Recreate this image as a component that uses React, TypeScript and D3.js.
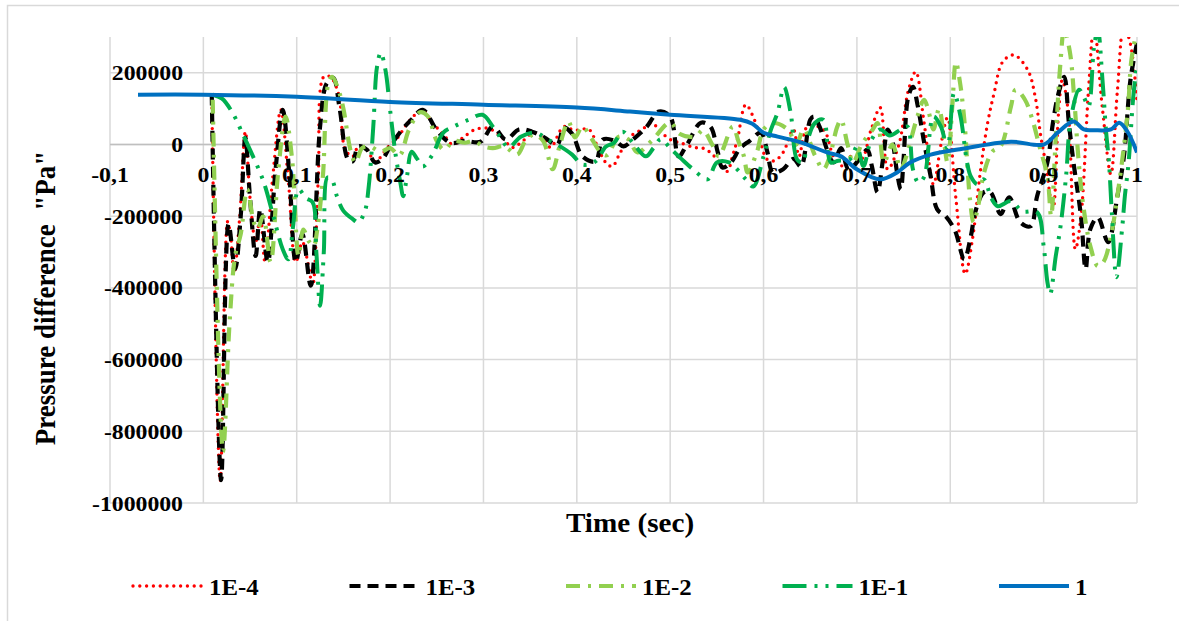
import React from "react";
import * as d3 from "d3";

type Pt = [number, number];

// Time axis ticks (sec) and pressure ticks (Pa)
const xTicks = [-0.1, 0, 0.1, 0.2, 0.3, 0.4, 0.5, 0.6, 0.7, 0.8, 0.9, 1];
const yTicks = [-1000000, -800000, -600000, -400000, -200000, 0, 200000];

const seriesNames = ["1E-4", "1E-3", "1E-2", "1E-1", "1"];

// Pressure difference [time (s), Pa] per series
const s1E4: Pt[] = [
  [0.009, 139000], [0.018, -939000], [0.026, -215000], [0.029, -250000], [0.033, -356000],
  [0.039, -200000], [0.045, 36000], [0.05, -150000], [0.056, -272000], [0.061, -200000],
  [0.066, -328000], [0.074, -100000], [0.083, 97000], [0.091, -100000], [0.099, -328000],
  [0.106, -272000], [0.112, -330000], [0.117, -394000], [0.123, -100000], [0.129, 189000],
  [0.136, 189000], [0.145, 139000], [0.152, -14000], [0.16, -33000], [0.166, -6000],
  [0.175, -14000], [0.184, -47000], [0.198, -6000], [0.208, 19000], [0.22, 64000],
  [0.235, 97000], [0.245, 60000], [0.256, 33000], [0.267, 0], [0.278, 19000],
  [0.291, 42000], [0.305, 45000], [0.318, 25000], [0.331, -8000], [0.34, 5000],
  [0.354, 33000], [0.365, 15000], [0.372, -8000], [0.386, 50000], [0.397, 40000],
  [0.413, 42000], [0.422, -5000], [0.431, -50000], [0.438, -61000], [0.447, -20000],
  [0.46, 28000], [0.47, 42000], [0.48, 60000], [0.492, 30000], [0.503, 10000],
  [0.511, 5000], [0.525, -8000], [0.535, -10000], [0.543, -22000], [0.552, -47000],
  [0.561, -75000], [0.567, -30000], [0.572, 14000], [0.581, 111000], [0.591, 64000],
  [0.604, -42000], [0.612, -45000], [0.621, -22000], [0.632, 42000], [0.638, -33000],
  [0.647, 50000], [0.664, 42000], [0.675, -33000], [0.685, -60000], [0.695, -30000],
  [0.705, -40000], [0.715, 40000], [0.725, 103000], [0.733, -69000], [0.745, 0],
  [0.755, 150000], [0.763, 203000], [0.772, 60000], [0.782, -111000], [0.79, 0],
  [0.797, 75000], [0.806, -150000], [0.816, -361000], [0.824, -260000], [0.832, -80000],
  [0.84, 60000], [0.847, 144000], [0.856, 230000], [0.868, 250000], [0.883, 208000],
  [0.891, 133000], [0.897, 22000], [0.902, -50000], [0.91, -180000], [0.916, 90000],
  [0.92, 180000], [0.926, 100000], [0.934, -292000], [0.94, -200000], [0.948, 150000],
  [0.954, 330000], [0.963, 100000], [0.972, -83000], [0.979, 150000], [0.986, 330000],
  [0.993, 280000], [1.0, 120000],
];

const s1E3: Pt[] = [
  [0.009, 139000], [0.019, -936000], [0.027, -222000], [0.034, -347000], [0.04, -200000],
  [0.045, 19000], [0.05, -150000], [0.056, -311000], [0.061, -180000], [0.069, -328000],
  [0.077, -80000], [0.085, 97000], [0.092, -80000], [0.099, -328000], [0.106, -250000],
  [0.115, -394000], [0.125, 50000], [0.132, 170000], [0.139, 186000], [0.146, 100000],
  [0.155, -42000], [0.16, -47000], [0.166, -5000], [0.175, -14000], [0.184, -50000],
  [0.192, -40000], [0.2, -5000], [0.213, 42000], [0.223, 70000], [0.235, 97000],
  [0.25, 40000], [0.265, 5000], [0.28, 10000], [0.297, 8000], [0.31, 50000],
  [0.324, 14000], [0.338, 42000], [0.352, 36000], [0.365, 20000], [0.379, 0],
  [0.386, 47000], [0.395, 30000], [0.406, -33000], [0.42, -47000], [0.428, 14000],
  [0.441, 10000], [0.45, -5000], [0.46, 14000], [0.474, 47000], [0.488, 92000],
  [0.5, 78000], [0.509, -33000], [0.518, 0], [0.533, 61000], [0.543, 50000],
  [0.551, -22000], [0.556, -64000], [0.565, -50000], [0.575, -10000], [0.585, 10000],
  [0.597, 33000], [0.604, -20000], [0.61, -78000], [0.621, -69000], [0.632, -40000],
  [0.64, -61000], [0.65, 69000], [0.654, 78000], [0.66, 50000], [0.668, -14000],
  [0.675, -50000], [0.683, -10000], [0.691, -69000], [0.703, -40000], [0.711, -14000],
  [0.716, -60000], [0.722, -133000], [0.728, -40000], [0.733, 42000], [0.738, 10000],
  [0.743, -78000], [0.747, -125000], [0.75, -40000], [0.755, 133000], [0.76, 161000],
  [0.765, 110000], [0.772, 6000], [0.779, -89000], [0.786, -181000], [0.795, -200000],
  [0.805, -240000], [0.815, -320000], [0.822, -256000], [0.827, -186000], [0.836, -133000],
  [0.843, -133000], [0.854, -194000], [0.863, -147000], [0.875, -217000], [0.886, -228000],
  [0.893, -144000], [0.904, -50000], [0.91, 61000], [0.915, 133000], [0.922, 189000],
  [0.927, 61000], [0.932, -50000], [0.94, -200000], [0.945, -347000], [0.95, -236000],
  [0.958, -203000], [0.969, -272000], [0.979, -144000], [0.986, -33000], [0.993, 181000],
  [1.0, 283000],
];

const s1E2: Pt[] = [
  [0.01, 125000], [0.021, -856000], [0.028, -500000], [0.034, -311000], [0.04, -250000],
  [0.047, -125000], [0.054, -217000], [0.058, -236000], [0.064, -200000], [0.072, -328000],
  [0.08, -80000], [0.088, 78000], [0.095, -40000], [0.102, -311000], [0.107, -237000],
  [0.113, -270000], [0.118, -283000], [0.122, -237000], [0.128, -89000], [0.134, 172000],
  [0.138, 189000], [0.145, 150000], [0.15, 100000], [0.158, -20000], [0.163, -50000],
  [0.17, -10000], [0.178, -5000], [0.19, -20000], [0.2, -10000], [0.21, -30000],
  [0.22, 40000], [0.232, 90000], [0.24, 80000], [0.25, 10000], [0.258, -15000],
  [0.268, 10000], [0.28, 5000], [0.29, 10000], [0.3, -5000], [0.31, -10000],
  [0.322, -5000], [0.336, -28000], [0.345, 10000], [0.354, 28000], [0.364, 10000],
  [0.374, -69000], [0.382, 0], [0.391, 64000], [0.398, 20000], [0.406, 50000],
  [0.415, 20000], [0.425, -20000], [0.432, -30000], [0.445, 22000], [0.455, 15000],
  [0.465, -22000], [0.48, 10000], [0.5, 61000], [0.51, 30000], [0.527, 22000],
  [0.535, 40000], [0.545, 0], [0.552, -33000], [0.567, 50000], [0.573, 10000],
  [0.579, -33000], [0.583, -78000], [0.593, -20000], [0.6, 42000], [0.61, 60000],
  [0.626, 42000], [0.635, 0], [0.643, 42000], [0.655, -30000], [0.664, -69000],
  [0.67, -40000], [0.679, 50000], [0.683, 69000], [0.69, 0], [0.696, -50000],
  [0.705, 0], [0.717, 42000], [0.722, 60000], [0.729, -50000], [0.738, 0],
  [0.747, -69000], [0.752, -40000], [0.765, 80000], [0.772, 125000], [0.777, 90000],
  [0.782, 42000], [0.788, 100000], [0.797, -50000], [0.802, 100000], [0.806, 230000],
  [0.81, 180000], [0.815, 70000], [0.821, -150000], [0.825, -217000], [0.83, -170000],
  [0.836, -80000], [0.845, -20000], [0.854, -5000], [0.865, 106000], [0.87, 153000],
  [0.88, 125000], [0.888, 69000], [0.895, 0], [0.904, -89000], [0.908, -200000],
  [0.913, 20000], [0.918, 228000], [0.922, 320000], [0.928, 260000], [0.933, 120000],
  [0.937, -30000], [0.942, -161000], [0.95, -283000], [0.958, -339000], [0.964, -328000],
  [0.972, -256000], [0.98, -125000], [0.99, 89000], [0.994, 236000], [1.0, 320000],
];

const s1E1: Pt[] = [
  [0.01, 139000], [0.02, 128000], [0.032, 85000], [0.042, 30000], [0.05, -15000],
  [0.064, -100000], [0.075, -200000], [0.085, -292000], [0.091, -320000], [0.096, -230000],
  [0.102, -125000], [0.11, -150000], [0.117, -161000], [0.121, -300000], [0.125, -450000],
  [0.129, -300000], [0.133, -92000], [0.138, -100000], [0.143, -144000], [0.15, -185000],
  [0.16, -208000], [0.166, -217000], [0.173, -186000], [0.177, -120000], [0.182, 50000],
  [0.186, 217000], [0.19, 256000], [0.195, 208000], [0.2, 97000], [0.206, -30000],
  [0.211, -106000], [0.214, -144000], [0.218, -90000], [0.223, -20000], [0.229, -40000],
  [0.235, -61000], [0.245, -30000], [0.257, 33000], [0.268, 50000], [0.284, 69000],
  [0.299, 83000], [0.31, 50000], [0.318, 20000], [0.327, -8000], [0.34, 22000],
  [0.356, 33000], [0.368, 15000], [0.379, 0], [0.395, -28000], [0.406, -56000],
  [0.42, -47000], [0.431, -6000], [0.44, 5000], [0.449, 36000], [0.46, 5000],
  [0.474, -33000], [0.482, -10000], [0.49, 15000], [0.5, -10000], [0.512, -40000],
  [0.525, -70000], [0.54, -97000], [0.55, -50000], [0.563, -50000], [0.572, -70000],
  [0.581, -97000], [0.589, -117000], [0.6, -33000], [0.608, 42000], [0.615, 89000],
  [0.622, 160000], [0.629, 89000], [0.636, -42000], [0.642, -50000], [0.647, 10000],
  [0.655, 60000], [0.664, 69000], [0.672, -50000], [0.68, -45000], [0.693, -40000],
  [0.7, -6000], [0.707, -60000], [0.715, 10000], [0.725, 42000], [0.735, 25000],
  [0.747, 42000], [0.754, 50000], [0.76, -69000], [0.766, -106000], [0.772, -90000],
  [0.782, 78000], [0.79, 50000], [0.797, -10000], [0.804, 144000], [0.811, 78000],
  [0.818, -50000], [0.822, -89000], [0.829, -111000], [0.836, -97000], [0.844, -150000],
  [0.851, -172000], [0.865, -158000], [0.877, -186000], [0.893, -189000], [0.9, -283000],
  [0.904, -383000], [0.907, -417000], [0.913, -311000], [0.918, -230000], [0.924, -89000],
  [0.929, 69000], [0.938, 153000], [0.943, 133000], [0.948, 106000], [0.954, 272000],
  [0.958, 320000], [0.963, 181000], [0.967, 33000], [0.97, -50000], [0.973, -189000],
  [0.978, -370000], [0.984, -236000], [0.987, -144000], [0.991, -50000], [0.996, 133000],
  [1.0, 228000],
];

const s1: Pt[] = [
  [-0.07, 139000], [0, 139000], [0.1, 133000], [0.2, 119000], [0.3, 111000],
  [0.4, 103000], [0.457, 92000], [0.5, 83000], [0.575, 69000], [0.588, 58000],
  [0.6, 33000], [0.615, 22000], [0.64, 6000], [0.668, -22000], [0.683, -33000],
  [0.7, -69000], [0.725, -97000], [0.743, -78000], [0.757, -50000], [0.779, -28000],
  [0.808, -14000], [0.865, 8000], [0.9, 0], [0.915, 33000], [0.932, 64000],
  [0.943, 42000], [0.954, 40000], [0.972, 42000], [0.981, 61000], [0.99, 35000],
  [1.0, -22000],
];

const seriesData = [s1E4, s1E3, s1E2, s1E1, s1];

// Line appearance for each series
const seriesStyle = [
  { color: "#FF0000", width: 3.4, dash: "0 6.8", cap: "round" },
  { color: "#000000", width: 4.2, dash: "11 7", cap: "butt" },
  { color: "#92D050", width: 4.2, dash: "14 8 3 8", cap: "butt" },
  { color: "#00B050", width: 4, dash: "24 8 3 8 3 8", cap: "butt" },
  { color: "#0070C0", width: 4, dash: "none", cap: "butt" },
];

const FONT = "'Liberation Serif', 'Times New Roman', serif";
const SX = 1.08;

const PLOT = { left: 110, right: 1137, top: 37, bottom: 503 };

export default function App() {
  const x = d3.scaleLinear().domain([-0.1, 1]).range([PLOT.left, PLOT.right]);
  const y = d3.scaleLinear().domain([-1000000, 300000]).range([PLOT.bottom, PLOT.top]);

  const line = d3
    .line<Pt>()
    .x((d) => x(d[0]))
    .y((d) => y(d[1]))
    .curve(d3.curveCatmullRom.alpha(0.5));

  const loc = d3.formatLocale({
    decimal: ",",
    thousands: "",
    grouping: [3],
    currency: ["", ""],
    minus: "-",
  });
  const fx = loc.format("~g");
  const fy = loc.format("d");

  const legendStart = 133;
  const legendStep = 216.5;
  const legendLen = 70;
  const legendY = 586;

  return (
    <svg
      width={1179}
      height={621}
      style={{ position: "absolute", left: 0, top: 0, display: "block", background: "#fff" }}
      fontFamily={FONT}
      fontWeight="bold"
    >
      <defs>
        <clipPath id="plotClip">
          <rect x={PLOT.left} y={PLOT.top} width={PLOT.right - PLOT.left} height={PLOT.bottom - PLOT.top} />
        </clipPath>
      </defs>
      <rect x={7.5} y={5.5} width={1190} height={640} fill="#fff" stroke="#D9D9D9" strokeWidth={1.5} />

      {/* grid */}
      {yTicks.map((t) => (
        <line key={"gy" + t} x1={PLOT.left} x2={PLOT.right} y1={y(t)} y2={y(t)} stroke="#D9D9D9" strokeWidth={1.5} />
      ))}
      {xTicks.map((t) => (
        <line key={"gx" + t} x1={x(t)} x2={x(t)} y1={PLOT.top} y2={PLOT.bottom} stroke="#D9D9D9" strokeWidth={1.5} />
      ))}
      <line x1={PLOT.left} x2={PLOT.right} y1={y(0)} y2={y(0)} stroke="#BFBFBF" strokeWidth={1.5} />

      {/* series */}
      <g clipPath="url(#plotClip)">
        {seriesData.map((data, i) => {
          const st = seriesStyle[i];
          return (
            <path
              key={seriesNames[i]}
              d={line(data) || ""}
              fill="none"
              stroke={st.color}
              strokeWidth={st.width}
              strokeDasharray={st.dash}
              strokeLinecap={st.cap as any}
              strokeLinejoin="round"
            />
          );
        })}
      </g>

      {/* y tick labels */}
      {yTicks.map((t) => (
        <text
          key={"ly" + t}
          transform={`translate(183,${y(t) + 7.5}) scale(${SX},1)`}
          textAnchor="end"
          fontSize={22}
          fill="#000"
        >
          {fy(t)}
        </text>
      ))}

      {/* x tick labels */}
      {xTicks.map((t) => (
        <text
          key={"lx" + t}
          transform={`translate(${x(t)},${y(0) + 37}) scale(${SX},1)`}
          textAnchor="middle"
          fontSize={22}
          fill="#000"
        >
          {fx(t)}
        </text>
      ))}

      {/* axis titles */}
      <text transform={`translate(630,532) scale(${SX},1)`} textAnchor="middle" fontSize={27} fill="#000">
        Time (sec)
      </text>
      <text
        transform={`translate(55,298) scale(${SX},1) rotate(-90)`}
        textAnchor="middle"
        fontSize={27}
        fill="#000"
        style={{ whiteSpace: "pre" }}
      >
        {'Pressure difference  "Pa"'}
      </text>

      {/* legend */}
      {seriesNames.map((name, i) => {
        const st = seriesStyle[i];
        const x0 = legendStart + i * legendStep;
        return (
          <g key={"lg" + name}>
            <line
              x1={x0}
              x2={x0 + legendLen}
              y1={legendY}
              y2={legendY}
              stroke={st.color}
              strokeWidth={st.width}
              strokeDasharray={st.dash}
              strokeLinecap={st.cap as any}
            />
            <text
              transform={`translate(${x0 + legendLen + 6},595) scale(${SX},1)`}
              fontSize={23}
              fill="#000"
            >
              {name}
            </text>
          </g>
        );
      })}
    </svg>
  );
}
